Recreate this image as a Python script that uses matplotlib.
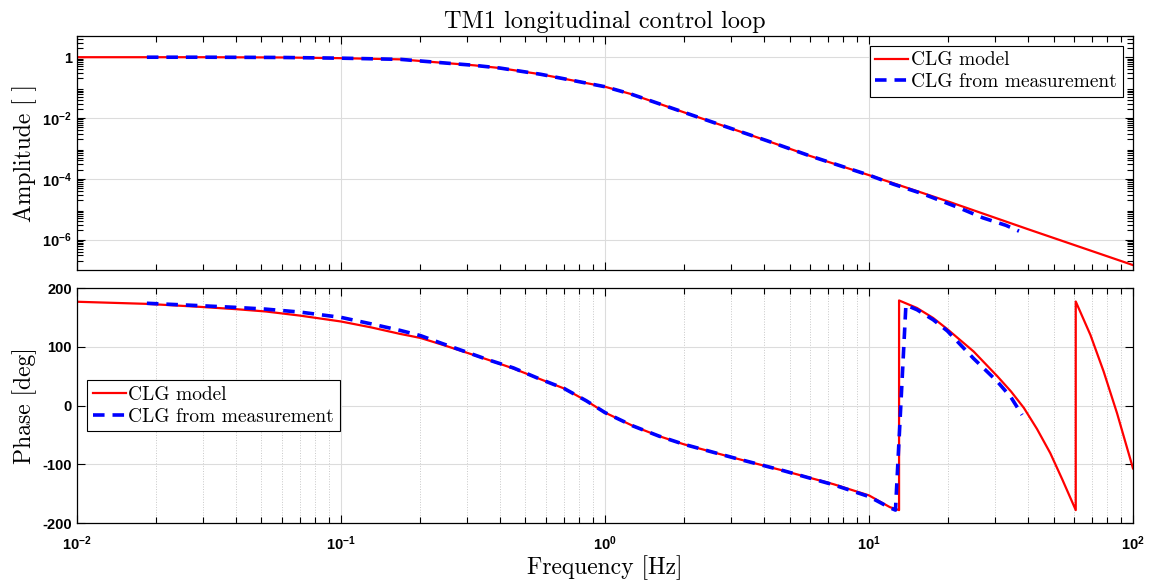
"""Bode plot of the TM1 longitudinal closed-loop gain (model vs. measurement)."""

import math

import matplotlib
matplotlib.use("Agg")
import matplotlib.pyplot as plt
from matplotlib.ticker import FixedLocator, FuncFormatter, LogLocator, NullFormatter

# --- values -------------------------------------------------------------
# closed-loop gain model, amplitude
model_freq_amp = [0.01, 0.03, 0.06, 0.1, 0.168, 0.24, 0.32, 0.4, 0.57, 0.75,
                  1.0, 1.25, 1.5, 2.3, 4.1, 6.0, 10.0, 20.0, 40.0, 100.0]
model_amp = [1.0, 1.0, 0.98, 0.93, 0.85, 0.66, 0.54, 0.44, 0.275, 0.174,
             0.107, 0.062, 0.036, 0.010, 1.8e-3, 5.6e-4, 1.32e-4, 1.78e-5,
             2.2e-6, 1.45e-7]

# closed-loop gain from measurement, amplitude
meas_freq_amp = [0.0184, 0.03, 0.06, 0.1, 0.168, 0.24, 0.32, 0.4, 0.57, 0.75,
                 1.0, 1.25, 1.5, 2.3, 4.1, 6.0, 10.0, 12.4, 16.0, 22.0, 27.0,
                 33.0, 37.0]
meas_amp = [1.0, 1.0, 0.98, 0.93, 0.85, 0.66, 0.54, 0.44, 0.275, 0.174,
            0.107, 0.062, 0.036, 0.010, 1.8e-3, 5.6e-4, 1.32e-4, 6.6e-5,
            3.2e-5, 1.1e-5, 5.2e-6, 2.95e-6, 1.9e-6]

# model phase [deg] (wraps at +-180)
model_freq_ph = [0.01, 0.0184, 0.029, 0.04, 0.052, 0.07, 0.1, 0.13, 0.167, 0.2,
                 0.24, 0.29, 0.36, 0.45, 0.56, 0.7, 0.85, 1.0, 1.28, 1.6, 1.99,
                 3.07, 4.75, 7.35, 10.0, 12.0, 13.0, 13.0, 15.2, 17.5, 19.8,
                 24.9, 30.6, 34.5, 38.6, 43.3, 48.6, 54.0, 60.7, 60.7, 64.5,
                 69.0, 77.4, 87.0, 100.0]
model_phase = [176.6, 173, 168, 164, 160, 153, 143, 133, 122, 115,
               104, 92, 78, 63, 46, 29, 8, -12, -35, -52, -66,
               -89, -111, -134, -153, -173, -178, 178.8, 166, 149, 130,
               92, 50, 24, -4, -40, -81, -126, -178, 177, 150,
               120, 58, -13, -107]

# measured phase [deg]
meas_freq_ph = [0.0184, 0.029, 0.04, 0.052, 0.07, 0.1, 0.13, 0.167, 0.2, 0.24,
                0.29, 0.36, 0.45, 0.56, 0.7, 0.85, 1.0, 1.28, 1.6, 1.99, 3.07,
                4.75, 7.35, 10.0, 12.0, 12.6, 13.8, 15.2, 17.5, 19.8, 24.9,
                30.6, 34.5, 38.0]
meas_phase = [174, 170, 167, 164, 159, 150, 139, 128, 119, 106,
              93, 78, 64, 46, 29, 8, -12, -35, -52, -66, -89,
              -111, -135, -155, -174, -178, 171, 163, 146, 127, 80,
              41, 14, -16]

amp_ticks = [1e-6, 1e-4, 1e-2, 1]
phase_ticks = [-200, -100, 0, 100, 200]

# --- style ---------------------------------------------------------------
plt.rcParams["font.family"] = ["Liberation Sans", "DejaVu Sans"]
plt.rcParams["font.weight"] = "bold"
plt.rcParams["font.size"] = 10.5
plt.rcParams["mathtext.fontset"] = "custom"
plt.rcParams["mathtext.rm"] = "Liberation Sans:bold"
plt.rcParams["mathtext.it"] = "Liberation Sans:bold"
plt.rcParams["mathtext.bf"] = "Liberation Sans:bold"
plt.rcParams["mathtext.sf"] = "Liberation Sans:bold"
plt.rcParams["axes.unicode_minus"] = False

serif = {"family": "cmr10", "weight": "normal"}
red = "#ff0000"
blue = "#0000ff"

fig = plt.figure(figsize=(11.52, 5.81), dpi=100)
ax1 = fig.add_axes([0.0668, 0.5353, 0.9167, 0.4028])
ax2 = fig.add_axes([0.0668, 0.0998, 0.9167, 0.4045])


def pow10(v, _pos):
    return r"$10^{%d}$" % round(math.log10(v))


def amp_label(v, pos):
    # the amplitude axis writes its unit tick as a plain "1"
    if v == 1:
        return "1"
    return pow10(v, pos)


for ax in (ax1, ax2):
    ax.set_xscale("log")
    ax.set_xlim(1e-2, 1e2)
    ax.xaxis.set_major_locator(LogLocator(base=10, numticks=10))
    ax.xaxis.set_minor_locator(LogLocator(base=10, subs=range(2, 10), numticks=20))
    ax.xaxis.set_minor_formatter(NullFormatter())
    ax.tick_params(which="both", direction="in", top=True, right=True,
                   width=0.8, colors="black")
    ax.tick_params(which="major", length=6)
    ax.tick_params(which="minor", length=4)
    ax.grid(which="major", color="#dcdcdc", linewidth=0.8, linestyle="-")
    for sp in ax.spines.values():
        sp.set_linewidth(0.9)
    ax.set_axisbelow(True)

legend_style = dict(prop={"family": "cmr10", "size": 14}, fancybox=False,
                    framealpha=1, edgecolor="black", handlelength=1.7,
                    handletextpad=0.15, borderpad=0.3, labelspacing=0.2,
                    borderaxespad=0)

# amplitude panel
ax1.plot(model_freq_amp, model_amp, color=red, lw=1.6, label="CLG model")
ax1.plot(meas_freq_amp, meas_amp, color=blue, lw=2.6, dashes=(3.2, 2.2),
         label="CLG from measurement")
ax1.set_yscale("log")
ax1.set_ylim(1e-7, 5)
ax1.yaxis.set_major_locator(FixedLocator(amp_ticks))
ax1.yaxis.set_minor_locator(LogLocator(base=10, subs=range(2, 10), numticks=30))
ax1.yaxis.set_minor_formatter(NullFormatter())
ax1.yaxis.set_major_formatter(FuncFormatter(amp_label))
ax1.tick_params(axis="x", labelbottom=False)
ax1.set_ylabel("Amplitude [ ]", fontdict=serif, fontsize=17, labelpad=4)
ax1.set_title("TM1 longitudinal control loop", fontdict=serif, fontsize=17.5, pad=6)
ax1.legend(loc="upper right", bbox_to_anchor=(0.9905, 0.9585),
           **legend_style).get_frame().set_linewidth(0.8)

# phase panel
ax2.plot(model_freq_ph, model_phase, color=red, lw=1.6, label="CLG model")
ax2.plot(meas_freq_ph, meas_phase, color=blue, lw=2.6, dashes=(3.2, 2.2),
         label="CLG from measurement")
ax2.set_ylim(-200, 200)
ax2.yaxis.set_major_locator(FixedLocator(phase_ticks))
ax2.grid(which="minor", axis="x", color="#c8c8c8", linewidth=0.7, linestyle=":")
ax2.xaxis.set_major_formatter(FuncFormatter(pow10))
ax2.tick_params(axis="x", which="major", pad=8)
ax2.set_ylabel("Phase [deg]", fontdict=serif, fontsize=17, labelpad=4)
ax2.set_xlabel("Frequency [Hz]", fontdict=serif, fontsize=17, labelpad=2)
ax2.legend(loc="upper left", bbox_to_anchor=(0.0092, 0.6085),
           **legend_style).get_frame().set_linewidth(0.8)

fig.savefig("out.png", dpi=100)
